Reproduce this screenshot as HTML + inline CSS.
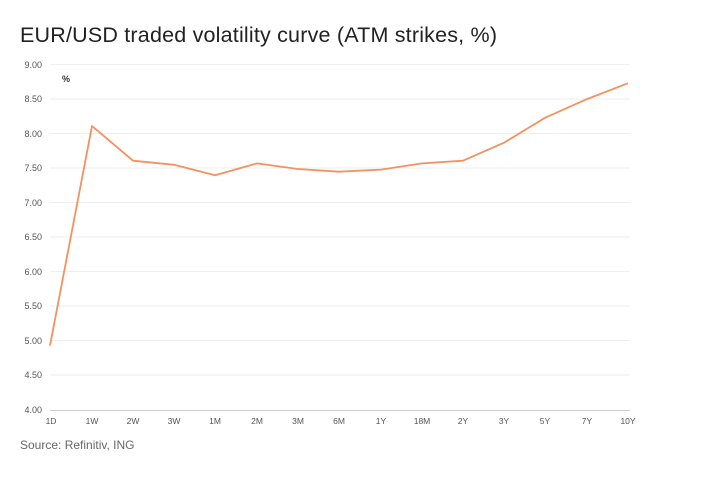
<!DOCTYPE html>
<html><head><meta charset="utf-8"><style>
body{margin:0;background:#fff;width:704px;height:473px;overflow:hidden;font-family:"Liberation Sans",sans-serif}
</style></head><body>
<svg width="704" height="473" xmlns="http://www.w3.org/2000/svg" font-family="Liberation Sans, sans-serif">
<text x="20" y="42" font-size="21.5" textLength="477" fill="#222">EUR/USD traded volatility curve (ATM strikes, %)</text>
<g stroke="#eeeeee" stroke-width="1">
<line x1="50" x2="630" y1="64.5" y2="64.5"/><line x1="50" x2="630" y1="99" y2="99"/>
<line x1="50" x2="630" y1="133.5" y2="133.5"/><line x1="50" x2="630" y1="168" y2="168"/>
<line x1="50" x2="630" y1="202.5" y2="202.5"/><line x1="50" x2="630" y1="237" y2="237"/>
<line x1="50" x2="630" y1="271.5" y2="271.5"/><line x1="50" x2="630" y1="306" y2="306"/>
<line x1="50" x2="630" y1="340.5" y2="340.5"/><line x1="50" x2="630" y1="375" y2="375"/>
</g>
<line x1="50" x2="630" y1="410.5" y2="410.5" stroke="#ccc"/>
<g font-size="9" fill="#555" text-anchor="end">
<text x="42" y="68">9.00</text><text x="42" y="102">8.50</text><text x="42" y="137">8.00</text>
<text x="42" y="171">7.50</text><text x="42" y="206">7.00</text><text x="42" y="240">6.50</text>
<text x="42" y="275">6.00</text><text x="42" y="309">5.50</text><text x="42" y="344">5.00</text>
<text x="42" y="378">4.50</text><text x="42" y="413">4.00</text>
</g>
<text x="62" y="82" font-size="9" font-weight="bold" fill="#333">%</text>
<g font-size="8.5" fill="#555" text-anchor="middle">
<text x="51" y="424">1D</text><text x="92" y="424">1W</text><text x="133" y="424">2W</text>
<text x="174" y="424">3W</text><text x="215" y="424">1M</text><text x="257" y="424">2M</text>
<text x="298" y="424">3M</text><text x="339" y="424">6M</text><text x="381" y="424">1Y</text>
<text x="422" y="424">18M</text><text x="463" y="424">2Y</text><text x="504" y="424">3Y</text>
<text x="545" y="424">5Y</text><text x="587" y="424">7Y</text><text x="628" y="424">10Y</text>
</g>
<polyline fill="none" stroke="#f4915f" stroke-width="1.8" stroke-linejoin="round" points="50,345.6 92,126 133,160.7 174,164.8 215,175.2 257,163.4 298,169 339,171.7 381,169.6 422,163.4 463,160.7 504,142.7 545,117.8 587,99.1 628,83.2"/>
<text x="20" y="449" font-size="12" fill="#666">Source: Refinitiv, ING</text>
</svg>
</body></html>
